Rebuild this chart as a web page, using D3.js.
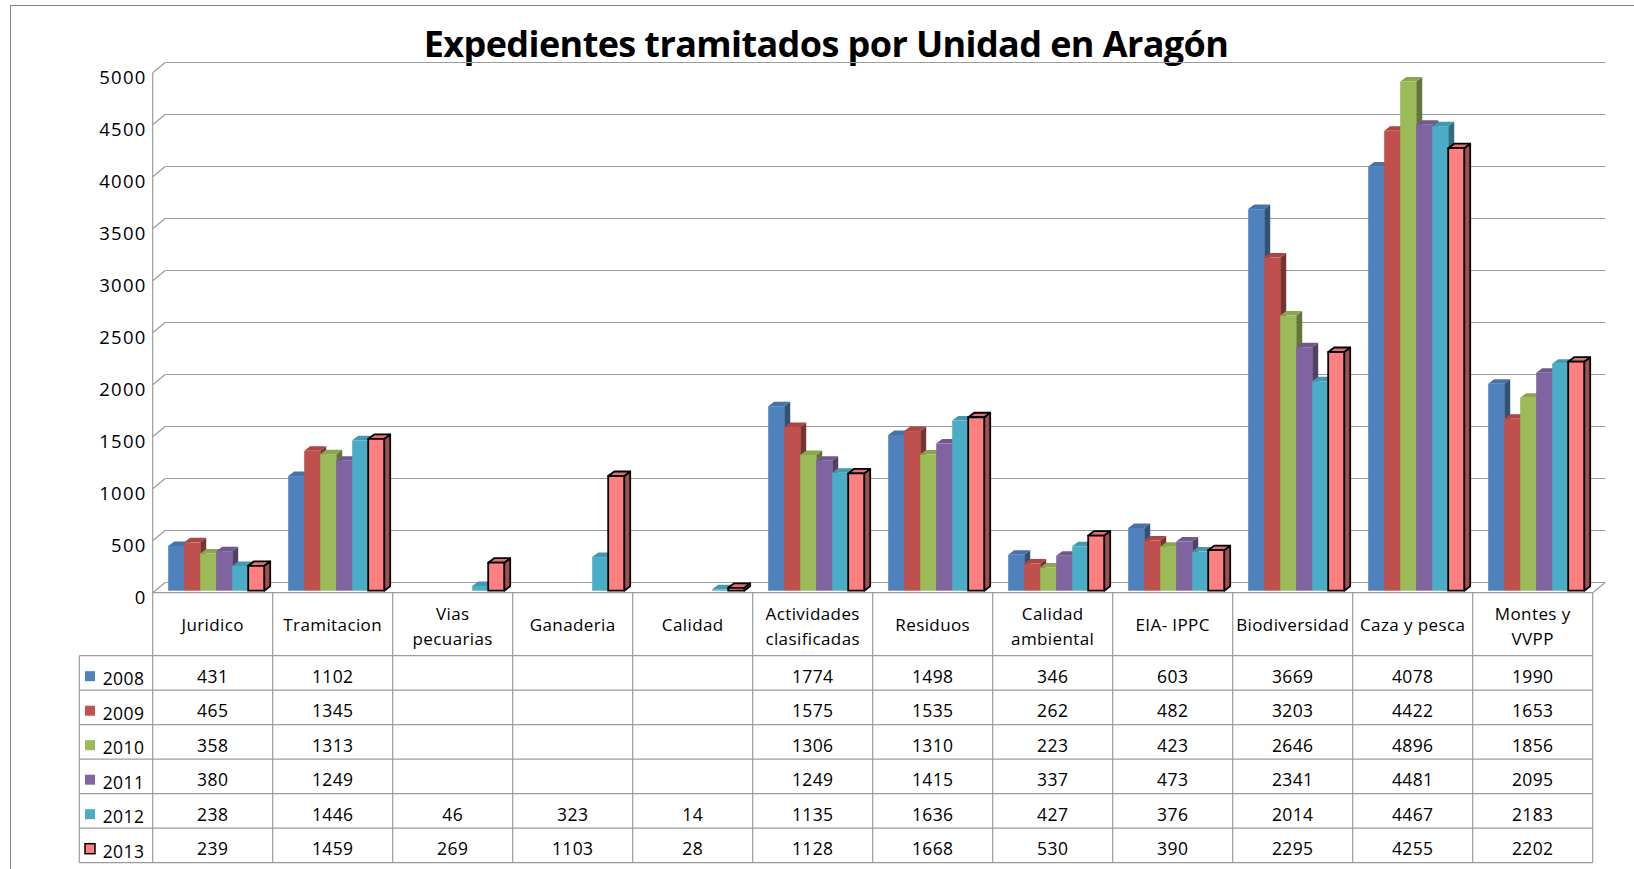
<!DOCTYPE html>
<html>
<head>
<meta charset="utf-8">
<script src="https://cdn.jsdelivr.net/npm/d3@7"></script>
<style>
  body { margin: 0; background: #fff; }
  svg { display: block; }
  text { font-family: "Open Sans", sans-serif; fill: #000; }
</style>
</head>
<body>
<svg id="chart"></svg>
<script>
// categories (two-line labels split with \n)
const categories = [
  "Juridico", "Tramitacion", "Vias\npecuarias", "Ganaderia", "Calidad",
  "Actividades\nclasificadas", "Residuos", "Calidad\nambiental", "EIA- IPPC",
  "Biodiversidad", "Caza y pesca", "Montes y\nVVPP"
];
const years = ["2008", "2009", "2010", "2011", "2012", "2013"];

const v2008 = [431, 1102, null, null, null, 1774, 1498, 346, 603, 3669, 4078, 1990];
const v2009 = [465, 1345, null, null, null, 1575, 1535, 262, 482, 3203, 4422, 1653];
const v2010 = [358, 1313, null, null, null, 1306, 1310, 223, 423, 2646, 4896, 1856];
const v2011 = [380, 1249, null, null, null, 1249, 1415, 337, 473, 2341, 4481, 2095];
const v2012 = [238, 1446, 46, 323, 14, 1135, 1636, 427, 376, 2014, 4467, 2183];
const v2013 = [239, 1459, 269, 1103, 28, 1128, 1668, 530, 390, 2295, 4255, 2202];

const yTicks = [0, 500, 1000, 1500, 2000, 2500, 3000, 3500, 4000, 4500, 5000];

const series = [v2008, v2009, v2010, v2011, v2012, v2013];
const colors = ["#4F81BD", "#C0504D", "#9BBB59", "#8064A2", "#4BACC6", "#FF8080"];

const width = 1634, height = 869;
const plotLeft = 152.7, plotRight = 1592.7;
const depthX = 12.5, depthY = -10.2;   // floor / back wall offset
const barDX = 6, barDY = -4.5;          // bar depth
const barLift = 2;                      // bars sit a bit behind the front edge
const gridColor = "#9c9c9c";

const svg = d3.select("#chart")
    .attr("width", width)
    .attr("height", height)
    .attr("viewBox", [0, 0, width, height]);

// outer border
svg.append("rect")
    .attr("x", 10.5).attr("y", 5.5)
    .attr("width", 1640).attr("height", 900)
    .attr("fill", "none").attr("stroke", "#868686");

// title
svg.append("text")
    .attr("x", 826).attr("y", 57)
    .attr("text-anchor", "middle")
    .attr("font-size", 36)
    .attr("font-weight", 700)
    .attr("letter-spacing", -0.6)
    .text("Expedientes tramitados por Unidad en Aragón");

const x = d3.scaleBand().domain(categories).range([plotLeft, plotRight]).padding(0);
const xInner = d3.scaleBand().domain(years).range([15.5, 111.5]).padding(0);
const y = d3.scaleLinear().domain([0, 5000]).range([592.7, 72.7]);

// back wall gridlines + diagonals to the front axis
const grid = svg.append("g").attr("stroke", gridColor).attr("stroke-width", 1.2).attr("fill", "none");
yTicks.forEach(t => {
  grid.append("line")
      .attr("x1", plotLeft + depthX).attr("x2", plotRight + depthX)
      .attr("y1", y(t) + depthY).attr("y2", y(t) + depthY);
  grid.append("line")
      .attr("x1", plotLeft).attr("x2", plotLeft + depthX)
      .attr("y1", y(t)).attr("y2", y(t) + depthY);
});
// floor front edge and right edge
grid.append("line")
    .attr("x1", plotLeft).attr("x2", plotRight)
    .attr("y1", y(0)).attr("y2", y(0));
grid.append("line")
    .attr("x1", plotRight).attr("x2", plotRight + depthX)
    .attr("y1", y(0)).attr("y2", y(0) + depthY);

// y labels
svg.append("g")
  .selectAll("text")
  .data(yTicks)
  .join("text")
    .attr("x", 146.7)
    .attr("y", d => y(d) + 10.8)
    .attr("text-anchor", "end")
    .attr("font-size", 18.5)
    .attr("letter-spacing", 1.3)
    .text(d => d);

// 3D bars
const bars = svg.append("g");
categories.forEach((cat, ci) => {
  years.forEach((yr, si) => {
    const v = series[si][ci];
    if (v == null) return;
    const c = d3.color(colors[si]);
    const x0 = x(cat) + xInner(yr);
    const x1 = x0 + xInner.bandwidth();
    const yt = y(v) - barLift;
    const yb = y(0) - barLift;
    const outlined = si === 5;
    const stroke = outlined ? "#000" : "none";
    const sw = outlined ? 1.8 : 0;
    const g = bars.append("g").attr("stroke", stroke).attr("stroke-width", sw).attr("stroke-linejoin", "round");
    g.append("path")
        .attr("fill", c.darker(1.3))
        .attr("d", `M${x1},${yb}L${x1 + barDX},${yb + barDY}L${x1 + barDX},${yt + barDY}L${x1},${yt}Z`);
    g.append("path")
        .attr("fill", c.darker(0.35))
        .attr("d", `M${x0},${yt}L${x0 + barDX},${yt + barDY}L${x1 + barDX},${yt + barDY}L${x1},${yt}Z`);
    g.append("rect")
        .attr("fill", c)
        .attr("x", x0).attr("y", yt)
        .attr("width", x1 - x0).attr("height", yb - yt);
  });
});

// data table
const tableLeft = 79.3;
const headTop = y(0);
const rowTop = 655.7, rowH = 34.5;
const tableBottom = rowTop + rowH * years.length;
const table = svg.append("g").attr("stroke", gridColor).attr("stroke-width", 1.2);

// front axis line continuing into the table
table.append("line")
    .attr("x1", plotLeft).attr("x2", plotLeft)
    .attr("y1", y(5000)).attr("y2", tableBottom);
categories.forEach(cat => {
  const xr = x(cat) + x.bandwidth();
  table.append("line")
      .attr("x1", xr).attr("x2", xr)
      .attr("y1", headTop).attr("y2", tableBottom);
});
table.append("line")
    .attr("x1", tableLeft).attr("x2", tableLeft)
    .attr("y1", rowTop).attr("y2", tableBottom);
d3.range(years.length + 1).forEach(i => {
  table.append("line")
      .attr("x1", tableLeft).attr("x2", plotRight)
      .attr("y1", rowTop + i * rowH).attr("y2", rowTop + i * rowH);
});

// header labels
const head = svg.append("g")
    .attr("font-size", 17)
    .attr("letter-spacing", 0.4)
    .attr("text-anchor", "middle");
categories.forEach(cat => {
  const lines = cat.split("\n");
  const cx = x(cat) + x.bandwidth() / 2;
  const t = head.append("text").attr("x", cx);
  if (lines.length === 1) {
    t.attr("y", 631).text(lines[0]);
  } else {
    t.attr("y", 619.5).text(lines[0]);
    head.append("text").attr("x", cx).attr("y", 644.5).text(lines[1]);
  }
});

// rows: legend keys, years and values
const rows = svg.append("g").attr("font-size", 17.5).attr("letter-spacing", 0.4);
years.forEach((yr, si) => {
  const top = rowTop + si * rowH;
  rows.append("rect")
      .attr("x", 85).attr("y", top + 15.5)
      .attr("width", 10).attr("height", 10)
      .attr("fill", colors[si])
      .attr("stroke", si === 5 ? "#000" : "none")
      .attr("stroke-width", 1.5);
  rows.append("text")
      .attr("x", 102.7).attr("y", top + 29.5)
      .text(yr);
  categories.forEach((cat, ci) => {
    const v = series[si][ci];
    if (v == null) return;
    rows.append("text")
        .attr("x", x(cat) + x.bandwidth() / 2)
        .attr("y", top + 27)
        .attr("text-anchor", "middle")
        .text(v);
  });
});
</script>
</body>
</html>
